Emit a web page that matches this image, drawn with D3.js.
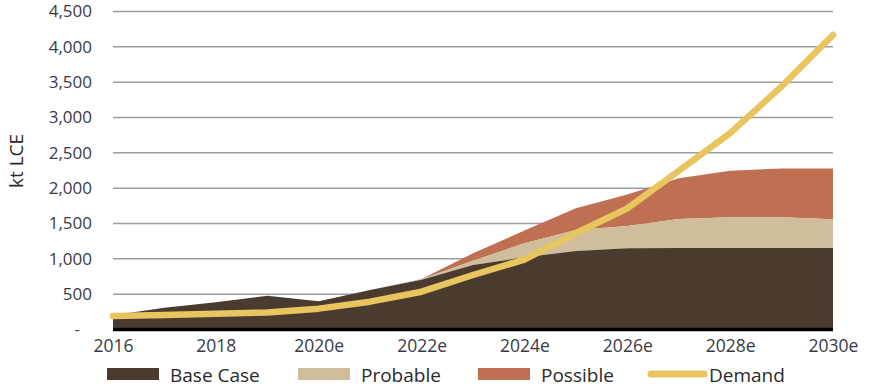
<!DOCTYPE html>
<html>
<head>
<meta charset="utf-8">
<script src="https://cdn.jsdelivr.net/npm/d3@7"></script>
<style>
  body { margin: 0; background: #fff; }
  text { font-family: "Open Sans", sans-serif; fill: #3a3a3a; }
</style>
</head>
<body>
<div id="chart"></div>
<script>
// categories
const years = ["2016", "2017", "2018", "2019", "2020e", "2021e", "2022e", "2023e",
               "2024e", "2025e", "2026e", "2027e", "2028e", "2029e", "2030e"];
const tickYears = ["2016", "2018", "2020e", "2022e", "2024e", "2026e", "2028e", "2030e"];

// supply series (kt LCE), stacked
const baseCase = [200, 307, 387, 477, 400, 559, 705, 913, 1022, 1111, 1149, 1152, 1152, 1152, 1152];
const probable = [0, 0, 0, 0, 0, 0, 5, 61, 198, 297, 316, 412, 436, 436, 408];
const possible = [0, 0, 0, 0, 0, 0, 5, 104, 180, 307, 445, 576, 657, 692, 718];

// demand line
const demand = [190, 205, 222, 240, 295, 394, 535, 771, 990, 1362, 1715, 2245, 2780, 3440, 4168];

const yTicks = [0, 500, 1000, 1500, 2000, 2500, 3000, 3500, 4000, 4500];

const width = 871, height = 388;
const colors = { base: "#4b3b2f", probable: "#d0bd9b", possible: "#c07052", demand: "#e8c55f" };

const svg = d3.select("#chart").append("svg")
    .attr("width", width)
    .attr("height", height);

const x = d3.scalePoint().domain(years).range([113, 833]);
const y = d3.scaleLinear().domain([0, 4500]).range([329.5, 11.5]);

// gridlines
svg.append("g")
    .selectAll("line")
    .data(yTicks.filter(d => d > 0))
    .enter().append("line")
    .attr("x1", 113).attr("x2", 833)
    .attr("y1", d => y(d)).attr("y2", d => y(d))
    .style("stroke", "#9d9d9d")
    .style("stroke-width", 1.5);

// stacked areas
const table = years.map((yr, i) => ({ year: yr, base: baseCase[i], probable: probable[i], possible: possible[i] }));
const stack = d3.stack().keys(["base", "probable", "possible"]);
const layers = stack(table);

const area = d3.area()
    .x(d => x(d.data.year))
    .y0(d => y(d[0]))
    .y1(d => y(d[1]));

svg.append("g")
    .selectAll("path")
    .data(layers.slice().reverse())
    .enter().append("path")
    .attr("d", area)
    .style("fill", d => colors[d.key]);

// baseline
svg.append("line")
    .attr("x1", 113).attr("x2", 833)
    .attr("y1", y(0)).attr("y2", y(0))
    .style("stroke", "#000")
    .style("stroke-width", 3.5);

// demand line
const line = d3.line()
    .x((d, i) => x(years[i]))
    .y(d => y(d));

svg.append("path")
    .datum(demand)
    .attr("d", line)
    .style("fill", "none")
    .style("stroke", colors.demand)
    .style("stroke-width", 6.5)
    .style("stroke-linecap", "round")
    .style("stroke-linejoin", "round");

// y axis labels
const yAxis = d3.axisLeft(y)
    .tickValues(yTicks)
    .tickSize(0)
    .tickPadding(0)
    .tickFormat(d => d === 0 ? "-" : d3.format(",")(d));

const yg = svg.append("g")
    .attr("transform", "translate(92,0)")
    .call(yAxis);
yg.select(".domain").remove();
yg.selectAll("text")
    .style("font-size", "17px")
    .style("font-family", "'Open Sans', sans-serif")
    .style("fill", "#3a3a46")
    .attr("x", d => d === 0 ? -12 : 0);

// x axis labels
const xAxis = d3.axisBottom(x)
    .tickValues(tickYears)
    .tickSize(0)
    .tickPadding(0);

const xg = svg.append("g")
    .attr("transform", "translate(0,340)")
    .call(xAxis);
xg.select(".domain").remove();
xg.selectAll("text")
    .style("font-size", "17.5px")
    .style("font-family", "'Open Sans', sans-serif")
    .style("fill", "#3a3a46");

// y axis title
svg.append("text")
    .attr("transform", "translate(23,161) rotate(-90)")
    .attr("text-anchor", "middle")
    .style("font-size", "19px")
    .style("fill", "#2a2a2a")
    .text("kt LCE");

// legend
const legendItems = [
    { label: "Base Case", key: "base", type: "rect", x: 107 },
    { label: "Probable", key: "probable", type: "rect", x: 298 },
    { label: "Possible", key: "possible", type: "rect", x: 478 },
    { label: "Demand", key: "demand", type: "line", x: 648 }
];

const legend = svg.append("g").attr("class", "legend");
const lg = legend.selectAll("g")
    .data(legendItems)
    .enter().append("g")
    .attr("transform", d => `translate(${d.x},374)`);

lg.filter(d => d.type === "rect").append("rect")
    .attr("x", 0).attr("y", -6)
    .attr("width", 52).attr("height", 12)
    .style("fill", d => colors[d.key]);

lg.filter(d => d.type === "line").append("line")
    .attr("x1", 3).attr("x2", 56)
    .attr("y1", 0).attr("y2", 0)
    .style("stroke", colors.demand)
    .style("stroke-width", 7)
    .style("stroke-linecap", "round");

lg.append("text")
    .attr("x", d => d.type === "line" ? 61 : 63)
    .attr("y", 7.5)
    .style("font-size", "19px")
    .style("fill", "#2a2a2a")
    .text(d => d.label);
</script>
</body>
</html>
